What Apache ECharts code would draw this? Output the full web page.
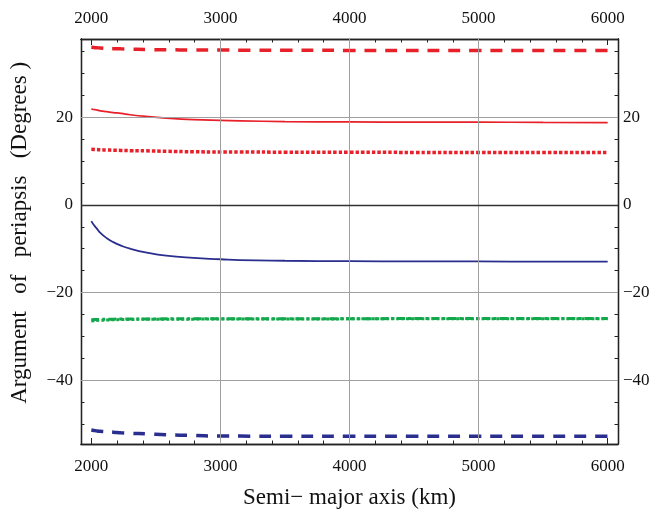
<!DOCTYPE html>
<html lang="en">
<head>
    <meta charset="UTF-8">
    <title>Argument of periapsis</title>
    <script src="https://cdn.jsdelivr.net/npm/echarts@6/dist/echarts.min.js"></script>
</head>
<body style="margin:0;background:#fff;">
<div id="main" style="width:654px;height:516px;"></div>
<script type="text/javascript">
    // semi-major axis samples (km)
    var aKm = [2000, 2020, 2040, 2070, 2120, 2170, 2230, 2300, 2430, 2580, 2790, 3000, 3150, 3500, 4000, 4500, 5000, 5500, 6000];

    var redDashed  = [36.0, 35.95, 35.9, 35.85, 35.75, 35.7, 35.65, 35.6, 35.5, 35.45, 35.4, 35.4, 35.35, 35.35, 35.3, 35.3, 35.3, 35.3, 35.3];
    var redSolid   = [21.9, 21.8, 21.7, 21.5, 21.3, 21.1, 20.9, 20.6, 20.2, 19.85, 19.5, 19.3, 19.2, 19.05, 18.95, 18.9, 18.9, 18.85, 18.8];
    var redDotted  = [12.7, 12.68, 12.65, 12.6, 12.55, 12.5, 12.45, 12.4, 12.35, 12.25, 12.15, 12.1, 12.1, 12.05, 12.05, 12.0, 12.0, 12.0, 12.0];
    var blueSolid  = [-3.7, -4.6, -5.3, -6.4, -7.6, -8.5, -9.3, -10.0, -10.9, -11.6, -12.1, -12.4, -12.6, -12.75, -12.85, -12.9, -12.9, -12.95, -12.95];
    var greenDashDot = [-26.2, -26.18, -26.16, -26.14, -26.1, -26.08, -26.06, -26.05, -26.03, -26.02, -26.0, -26.0, -26.0, -25.98, -25.97, -25.96, -25.95, -25.95, -25.95];
    var greenDotted  = [-26.5, -26.45, -26.4, -26.35, -26.28, -26.22, -26.18, -26.15, -26.12, -26.1, -26.08, -26.05, -26.05, -26.03, -26.02, -26.0, -26.0, -26.0, -26.0];
    var blueDashed = [-51.4, -51.5, -51.6, -51.7, -51.8, -51.9, -52.05, -52.15, -52.3, -52.5, -52.65, -52.8, -52.8, -52.85, -52.85, -52.85, -52.85, -52.85, -52.85];

    // axis ticks
    var xTicks = [2000, 3000, 4000, 5000, 6000];
    var xMinor = [2200, 2400, 2600, 2800, 3200, 3400, 3600, 3800, 4200, 4400, 4600, 4800, 5200, 5400, 5600, 5800];
    var yTicks = [-40, -20, 0, 20];
    var yMinor = [-50, -45, -35, -30, -25, -15, -10, -5, 5, 10, 15, 25, 30, 35];
    var xGrid = [3000, 4000, 5000];
    var yGrid = [-40, -20, 20];

    var xRange = [1920, 6080];
    var yRange = [-54.6, 37.9];

    function pairs(ys) {
        return aKm.map(function (x, i) { return [x, ys[i]]; });
    }
    function plain(v) {
        return String(v).replace('-', '\u2212');
    }

    var font = 'Liberation Serif';
    var axisLine = {show: true, onZero: false, lineStyle: {color: '#222', width: 1.3}};

    function xAx(pos, ticks, len, labels, extra) {
        var ax = {
            type: 'value', position: pos, min: xRange[0], max: xRange[1],
            axisLine: axisLine,
            axisTick: {show: true, inside: true, length: len, customValues: ticks, lineStyle: {color: '#222', width: 1}},
            axisLabel: labels ? {show: true, customValues: ticks, margin: pos === 'top' ? 12 : 14,
                fontFamily: font, fontSize: 17, color: '#111', formatter: plain} : {show: false},
            splitLine: {show: false}
        };
        return Object.assign(ax, extra || {});
    }
    function yAx(pos, ticks, len, labels, extra) {
        var ax = {
            type: 'value', position: pos, min: yRange[0], max: yRange[1],
            axisLine: axisLine,
            axisTick: {show: true, inside: true, length: len, customValues: ticks, lineStyle: {color: '#222', width: 1}},
            axisLabel: labels ? {show: true, customValues: ticks, margin: pos === 'right' ? 5 : 8,
                fontFamily: font, fontSize: 17, color: '#111', formatter: plain} : {show: false},
            splitLine: {show: false}
        };
        return Object.assign(ax, extra || {});
    }

    var myChart = echarts.init(document.getElementById('main'));

    var gridLines = xGrid.map(function (v) {
        return {xAxis: v};
    }).concat(yGrid.map(function (v) {
        return {yAxis: v};
    })).concat([{yAxis: 0, lineStyle: {color: '#333', width: 1.4}}]);

    function line(name, ys, color, width, type) {
        return {
            name: name, type: 'line', data: pairs(ys), smooth: true, showSymbol: false, z: 3,
            lineStyle: {color: color, width: width, type: type}
        };
    }

    var option = {
        animation: false,
        grid: {left: 81, right: 36, top: 39, bottom: 72, containLabel: false},
        xAxis: [
            xAx('bottom', xTicks, 6, true, {
                name: 'Semi\u2212 major axis (km)', nameLocation: 'middle', nameGap: 42,
                nameTextStyle: {fontFamily: font, fontSize: 23, color: '#111'}
            }),
            xAx('bottom', xMinor, 3.5, false),
            xAx('top', xTicks, 6, true),
            xAx('top', xMinor, 3.5, false)
        ],
        yAxis: [
            yAx('left', yTicks, 6, true, {
                name: '   Argument   of   periapsis   (Degrees )', nameLocation: 'middle', nameGap: 50,
                nameTextStyle: {fontFamily: font, fontSize: 23, color: '#111'}
            }),
            yAx('left', yMinor, 3.5, false),
            yAx('right', yTicks, 6, true),
            yAx('right', yMinor, 3.5, false)
        ],
        series: [
            {
                type: 'line', data: [], z: 1, silent: true,
                markLine: {
                    silent: true, symbol: 'none', label: {show: false},
                    lineStyle: {color: '#a0a0a0', width: 1, type: 'solid'},
                    data: gridLines
                }
            },
            line('red dashed', redDashed, '#e8202a', 3.5, [12, 9]),
            line('red solid', redSolid, '#e8202a', 1.7, 'solid'),
            line('red dotted', redDotted, '#e8202a', 3.5, [3.5, 2]),
            line('blue solid', blueSolid, '#2a2e8e', 1.8, 'solid'),
            line('green dash-dot', greenDashDot, '#13a84c', 3, [8, 3, 3, 3]),
            line('green dotted', greenDotted, '#13a84c', 3, [3, 2]),
            line('blue dashed', blueDashed, '#2a2e8e', 3.5, [12, 9])
        ]
    };
    myChart.setOption(option);
</script>
</body>
</html>
